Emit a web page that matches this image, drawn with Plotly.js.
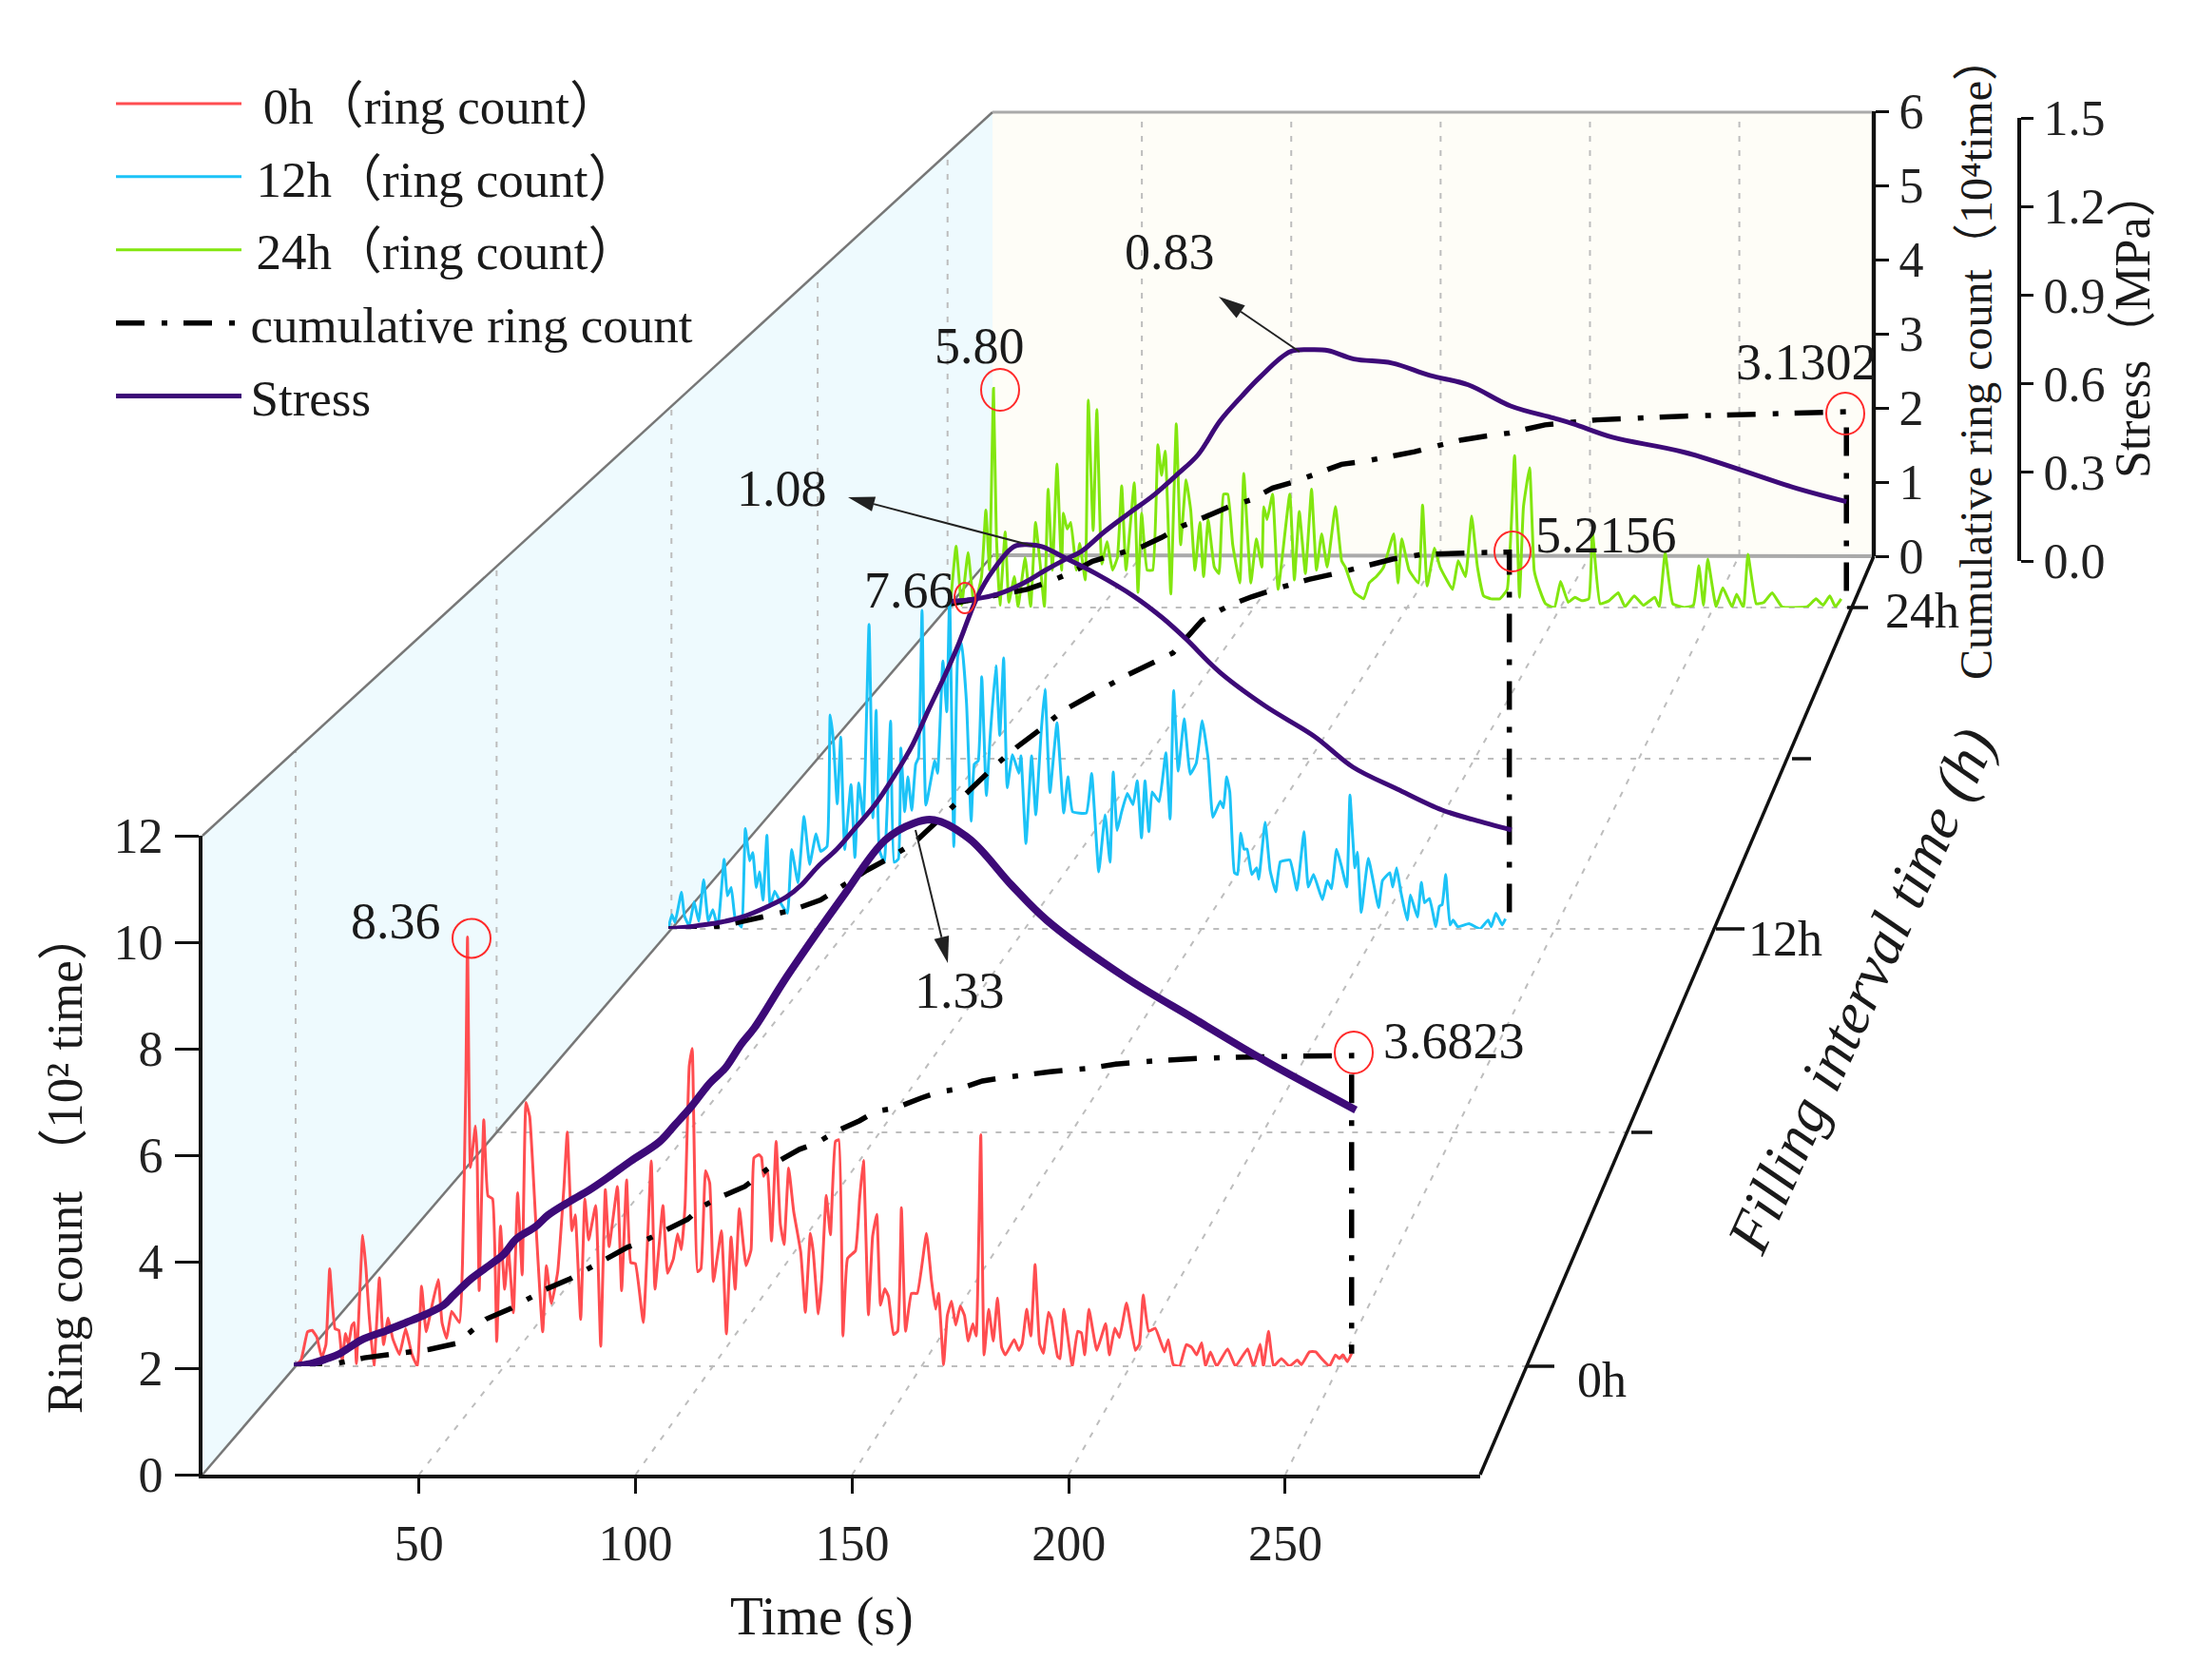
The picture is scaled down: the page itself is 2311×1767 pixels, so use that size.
<!DOCTYPE html>
<html><head><meta charset="utf-8">
<script src="https://cdn.plot.ly/plotly-3.0.1.min.js"></script>
<style>html,body{margin:0;padding:0;background:#fff}#c{width:2311px;height:1767px}</style>
</head><body><div id="c"></div>
<script>
// ---- data: ring count (10^2 times), cumulative (10^4 times), stress (MPa) vs time (s)
const t0h=[0,1.7,3.3,4.4,5.5,6.7,7.7,8.6,9.3,9.9,10.8,11.6,12.4,13.1,13.9,14.5,15,16.5,17.3,18,19.2,20.5,21.5,22.6,23.7,25.3,26.8,28.3,29.6,30.6,31.7,33.2,34.6,35.5,36.6,37.8,39.7,40.4,41.2,41.6,42.3,43.5,43.9,44.4,45.5,46.5,47.6,48.6,49.5,50.5,51.4,52.6,53.6,54.7,55.6,56.5,57.9,59.6,60.5,61.7,63.2,64.7,65.5,66.6,67.4,68.7,69.7,70.6,72.3,73.5,74.6,75.5,77.5,78.5,79.7,80.7,81.8,83.7,85.6,86.5,88.4,89.5,90.9,91.9,92.8,93.7,94.7,95.4,96.7,97.5,98.6,99.6,100.5,102.4,103.6,104.7,105.7,106.7,108.3,109.5,110.2,111.4,112,112.5,113.4,114.4,115.5,116.5,117.4,118.5,119.7,121.4,122.5,123.7,124.4,125.6,126.4,127.5,128.5,129.7,130.5,131.5,132.6,134.5,135.5,136.4,137.6,138.6,139.6,140.5,141.5,142.4,143.6,144.6,145.5,146.5,147.9,149.3,151.5,152.7,153.7,154.4,155.6,156.5,157.5,158.5,159.6,160.6,161.5,162.6,163.4,164.5,165.3,166.4,167.5,168.5,169.5,170.4,172.5,173.6,174.4,175.5,176.5,177.5,178.6,179.5,180.7,181.4,182.9,183.5,184.4,186.4,187.7,188.6,189.4,190.4,192.3,194.4,195.3,196.6,197.7,199.4,201.5,202.5,203.4,204.7,206.3,208.5,209.4,210.6,212.1,213.7,215,216.2,217.4,218.3,219.5,221,223.6,225.5,228.4,229.8,231.4,232.2,233.4,234.6,236.5,238.4,240.3,241.3,243.2,244.7,246.1,248,249.4,250.4,251.2,252.3,253.3];
const count0h=[0,.11,.67,.70,.57,.17,.42,1.90,1.16,.73,.70,.11,.64,.42,.79,.85,.05,2.55,1.90,1.04,0,1.72,.42,.94,.54,.23,.73,.23,0,1.56,.67,1.22,1.69,.85,.54,1.07,.85,2.0,5.5,8.36,3.87,4.68,4.12,1.47,4.80,3.32,3.26,.48,2.73,1.5,2.27,1.04,3.38,1.78,5.14,4.86,2.89,.67,1.96,1.22,1.84,3.5,4.56,2.64,2.95,.91,3.26,2.46,3.13,.39,3.44,2.33,3.5,1.47,3.63,2.02,2.0,.85,4.0,1.5,3.13,1.81,2.09,2.58,2.27,3.13,5.85,6.19,1.84,1.9,3.81,3.57,1.65,2.64,.63,2.52,1.5,3.07,1.96,2.27,4.06,4.12,4.07,3.70,3.83,2.44,4.38,2.78,2.37,3.86,3.02,2.22,1.05,2.59,2.22,1.02,1.67,3.33,2.56,4.38,4.41,.59,2.10,2.25,3.27,4.01,1.0,2.53,2.96,1.19,1.51,1.36,.62,.68,3.09,.68,1.42,1.42,2.59,1.67,1.11,1.42,.03,.99,1.27,.80,1.17,.99,.49,.83,.59,4.51,.22,1.11,.49,1.33,.37,.22,.52,.31,.43,1.11,.59,1.98,.43,.25,1.05,.93,.19,.15,1.11,0,.68,.65,.22,1.11,.31,.83,.22,.74,.56,1.23,.31,.43,1.39,.68,.74,.28,.52,.03,0,.42,.37,.22,.46,0,.28,0,.34,0,.34,0,.43,0,.68,0,.15,0,.12,.03,.28,.28,.15,0,.22,.15,.22,.09,.25];
const t12h=[.1,1,1.9,3.7,4.6,5.9,7.3,8.6,10,11.3,12.6,14,15.8,16.7,17.8,18.9,20.7,21.8,23,23.9,24.9,25.8,26.8,27.9,28.8,30.1,31.9,33.7,34.9,36.7,38.4,40,41.8,43.1,44.9,45.8,46.7,47.8,48.8,49.9,51.7,52.8,53.9,55.2,56.8,57.9,58.8,59.7,61.1,62.9,63.9,65.1,65.8,66.9,67.8,68.9,70,70.8,71.8,72.9,75.4,76.2,77.7,78.8,79.6,80.8,81.9,83,84.4,85.7,86.6,87.7,88.7,90,91.1,92.7,93.8,94.9,95.9,97.4,99.2,99.8,101.2,102.8,104,105.5,106.6,108,110,111.9,113.1,114.4,118.3,119.8,121.8,123.6,125,125.9,127,128.3,129.9,131.5,132.7,133.9,134.9,136,136.9,138.9,140.8,142,143,144.3,146,147.7,149.4,151.1,152.8,154.1,156.2,157.1,158,158.9,160.2,161.1,162,162.9,163.8,165.1,166.5,167.1,168.9,170.3,171.9,173.2,175.9,177.9,179.9,181.1,182.6,185.1,186.5,187.7,189.1,190.4,192,192.9,194.3,195,196.1,198.1,201,202.1,204.2,205,206.1,207.3,209.1,210,212,213.1,214,215.4,217.2,218.2,219,220,221.2,222.1,223.4,226.6,229.7,232,232.9,234.2,236,236.9];
const count12h=[.04,.33,.15,.84,.29,.07,.62,.18,1.13,.18,.44,.04,1.6,.76,.95,.25,.04,2.3,1.56,1.75,.95,1.31,.66,2.15,.51,.87,.58,.36,1.82,1.06,2.58,1.48,2.18,1.78,1.89,4.91,4.33,2.87,4.4,1.82,3.31,1.64,3.35,2.55,6.99,2.55,5.02,1.82,1.53,4.77,1.53,1.6,4.15,2.69,3.49,2.72,3.78,3.93,7.31,2.84,3.86,3.57,6.15,4.98,7.66,1.89,6.26,6.55,5.17,2.47,3.78,3.86,5.79,3.06,4.44,6.04,4.44,6.22,3.24,4.0,3.57,3.97,1.96,3.97,2.62,4.51,5.5,3.13,4.73,2.66,3.49,2.69,2.66,3.57,1.31,2.62,1.53,3.6,2.26,2.69,3.11,2.85,3.4,2.09,3.4,2.23,3.14,2.92,4.04,2.52,5.47,3.62,4.82,3.55,3.8,4.78,3.88,2.56,2.93,2.78,3.49,3.14,1.29,1.25,2.2,1.83,1.83,1.25,1.4,1.14,2.45,1.34,.85,1.54,1.58,.89,2.23,.96,1.25,.67,1.11,.92,1.83,1.47,.96,3.07,1.4,1.76,.38,1.62,.49,1.11,1.29,.96,1.4,.85,.2,.78,.27,1.07,.6,.7,.05,.52,.56,1.25,.09,.2,.05,.12,0,.2,.05,.36,.09,.23];
const t24h=[.9,2.7,4.5,6.6,8.6,11,12.4,13.6,14.9,15.8,17,18.7,19.9,21.7,22.9,25.2,27,28.6,30,31.5,32.7,34.1,35.6,37.1,37.7,38.9,40.1,41.9,43,44.8,45.8,47.4,48.6,50.2,51.9,53.7,55.3,56.7,58.1,60.8,62,63.2,65,66.8,68.5,69.7,70.9,72.7,74.5,75.9,77.7,79.2,80.6,82.2,83.4,84.9,86.9,88.4,89.9,91.3,92.9,95.2,96.5,98.8,100.6,102.4,103,104.1,105.9,107.7,111.5,113,114.6,116.6,118.6,120.2,121.9,123.7,126.4,128.4,129.6,132.6,135.6,137.4,139.7,142.1,145.4,146.8,148,150.4,153.4,154.8,156.3,158.7,160.5,164.6,166.4,168.8,170.8,172.7,174.7,177.1,180,182.4,184.8,186.4,187.7,189.7,191.2,192.6,194.9,197.8,199.8,202.3,204.5,206.7,209,210.2,212.7,215.6,218.6,220.8,223.8,226.8,230.5,232,233.9,236.4,240.1,243.1,244.9,246.4,247.8,250.5,252.7,255.7,257.2,259.4,260.9,263.6,266.1,268.8,272,280.2,283.1,285.4,287.6,289.4,291.3];
const count24h=[.14,1.62,.06,1.45,.02,.82,2.58,.99,5.8,2.0,.06,2.0,.14,.82,.02,1.32,.02,2.25,1.24,.02,3.13,.99,3.8,.99,2.5,2.08,2.25,.99,1.7,.73,5.49,2.04,5.24,1.15,1.74,.99,1.32,3.22,.99,3.3,.4,2.5,.99,.99,4.31,3.5,4.14,.36,4.86,1.66,3.38,2.58,.99,2.25,.82,2.33,1.07,.9,3.0,3.0,1.66,.65,3.55,.65,1.82,1.07,2.67,2.33,3.0,.48,3.0,.73,2.54,.9,3.13,.99,1.95,1.07,2.67,1.24,1.07,.4,.23,.65,.82,1.07,1.95,.65,1.82,.99,.65,2.71,.57,1.57,1.07,.48,1.24,.82,2.42,1.07,.31,.23,.23,.48,4.02,.27,2.67,3.7,.98,.56,.10,0,.69,.14,.27,.18,.23,2.0,.1,.18,.39,.02,.31,.06,.27,.02,1.45,.1,0,.06,1.11,.06,1.28,.02,.52,.02,.35,0,1.41,.1,.14,.39,.02,.02,.23,.06,.31,.02,.23];

const cumT0h=[0,7.8,12,16.9,23,27.9,32.5,38.9,42.3,46.1,52.2,56,60.2,65.9,70,74.2,79.9,84.1,88.2,94.3,97.7,101.9,108,111.4,115.3,121.1,125.4,129.7,135.5,139.3,144.1,150.3,154.4,159.6,164.9,170.1,181.1,190.4,196.8,206.7,217.7,229.3,245,253.3,253.3];
const cum0h=[0,.01,.05,.10,.14,.17,.20,.27,.41,.56,.69,.80,.91,1.03,1.14,1.24,1.41,1.49,1.59,1.74,1.89,2.0,2.13,2.26,2.41,2.57,2.65,2.78,2.91,3.02,3.06,3.18,3.25,3.29,3.38,3.42,3.49,3.53,3.58,3.62,3.65,3.665,3.68,3.6823,.15];
const cumT12h=[0,12.2,19.8,27.9,35.1,43.1,48.1,56.1,62.9,70,77.2,81.3,86.6,92.9,98.7,105.5,111.3,118.5,125.2,128.9,142.8,151,158.8,165.2,173.5,181.3,189.7,197.5,205,212.8,221,229,236.5,238,238];
const cum12h=[0,.02,.09,.18,.26,.40,.55,.81,.99,1.21,1.54,1.73,1.99,2.28,2.52,2.77,3.01,3.21,3.38,3.49,3.82,4.27,4.48,4.6,4.73,4.84,4.93,5.03,5.12,5.18,5.2,5.21,5.2156,5.2156,.02];
const cumT24h=[0,9.8,16.3,25.8,33,40.7,47.2,54.9,63.2,69.7,76.3,84,91.1,98.8,105.9,113.6,120.7,128.4,136.2,144.5,152.2,159.9,167.6,175.3,183,194.7,204,211.7,240,260,281.8,293,293];
const cum24h=[.05,.14,.19,.29,.41,.57,.74,.85,.97,1.12,1.3,1.45,1.6,1.72,1.91,2.02,2.15,2.29,2.34,2.42,2.49,2.59,2.68,2.74,2.79,2.92,2.96,3.0,3.06,3.09,3.125,3.1302,.1];

const stressT0h=[0,4,7.8,10.9,16.2,22.2,26.8,31.3,35.9,38.2,42.7,47.3,50.3,53.3,57.9,60.9,66.2,70.8,75.3,80.6,87.5,91.3,95.1,99.6,103.4,107.2,110.3,118.1,131.5,141.6,148.4,153.4,161.8,171.9,180.3,198.8,215.6,232.5,254.3];
const stress0h=[0,.006,.018,.03,.064,.087,.106,.125,.149,.172,.215,.249,.273,.31,.34,.368,.402,.429,.46,.499,.546,.588,.631,.689,.727,.785,.824,.949,1.144,1.281,1.322,1.33,1.284,1.171,1.086,.949,.846,.744,.624];
const stressT12h=[.1,8.2,14.4,21.6,27.9,33.3,37.8,42.2,47.6,53,58.4,63.8,69.1,73.6,78.1,82.2,87.2,91.9,97.9,102.1,105.7,112.3,120.8,131.6,139.9,146.4,156,168.7,183,193.7,206.3,219,227.9,238.6];
const stress12h=[0,.009,.018,.036,.062,.089,.125,.174,.223,.285,.348,.428,.517,.615,.709,.802,.928,1.008,1.075,1.08,1.075,1.043,1.0,.936,.874,.816,.722,.628,.54,.455,.393,.334,.307,.278];
const stressT24h=[0,9.2,16.3,24.7,31.8,38.3,43.6,50.8,59,67.4,74.5,81.6,88.7,95.8,101.8,111.7,118.4,124,132.4,144.8,157.2,169.7,183.5,197.5,204,216.7,240.5,277,293];
const stress24h=[.02,.028,.043,.079,.12,.155,.181,.242,.303,.364,.426,.492,.6,.68,.742,.824,.83,.827,.80,.787,.747,.717,.649,.61,.591,.548,.499,.383,.341];

const timeTicks=[50,100,150,200,250];
const ringTicks=[0,2,4,6,8,10,12];
const cumTicks=[0,1,2,3,4,5,6];
const stressTicks=[0,.3,.6,.9,1.2,1.5];
const planeNames=['24h','12h','0h'];
const NB='\u00a0',THIN='\u2009',HAIR='\u200a';
const legendNames={'0h':NB+HAIR+'0h（ring count）','12h':THIN+'12h（ring count）','24h':THIN+'24h（ring count）'};

// ---- layout geometry (px of the 2311x1767 page)
const W=2311,H=1767,FONT='"Liberation Serif","Noto Sans CJK SC",serif';
const X=v=>v/W, Y=v=>1-v/H;
const TMAX=295;
const RED='#ff4d50',BLUE='#1cc3f7',GREEN='#82e60f',PURPLE='#3d0a78',INK='#1a1a1a',GRID='#bdbdbd';
const planes={ '24h':{left:997,scale:3.226,base:639,h:477,cum:7.25,st:1.46},
               '12h':{left:703,scale:3.717,base:977,h:550,cum:7.24,st:1.47},
               '0h': {left:309,scale:4.393,base:1437,h:648,cum:7.3,st:1.5}};
const FL=[213,1551],TL=[213,879],BL=[1044,584],BT=[1044,118],BR=[1971,585],BRT=[1971,118],FR=[1557,1551];
const hidden={visible:false,fixedrange:true};
const tickFont={family:FONT,size:52,color:'#222'};

const layout={width:W,height:H,margin:{l:0,r:0,t:0,b:0},paper_bgcolor:'#fff',plot_bgcolor:'rgba(0,0,0,0)',
  font:{family:FONT,size:50,color:INK},showlegend:true,
  legend:{x:X(117),y:Y(68),xanchor:'left',yanchor:'top',bgcolor:'rgba(0,0,0,0)',itemwidth:132,traceorder:'grouped',tracegroupgap:5,
    font:{family:FONT,size:53,color:INK},itemclick:false,itemdoubleclick:false},
  xaxis:{domain:[X(FL[0]),X(FR[0])],range:[0,TMAX],tickvals:timeTicks,ticks:'outside',ticklen:16,tickwidth:3,tickcolor:'#111',
    showline:true,linewidth:4,linecolor:'#111',showgrid:false,zeroline:false,anchor:'y',ticklabelstandoff:8,
    tickfont:tickFont,fixedrange:true},
  yaxis:{domain:[Y(FL[1]),Y(TL[1])],range:[0,12],tickvals:ringTicks,ticks:'outside',ticklen:25,tickwidth:3,tickcolor:'#111',
    showline:true,linewidth:4,linecolor:'#111',showgrid:false,zeroline:false,anchor:'x',ticklabelstandoff:2,
    tickfont:tickFont,fixedrange:true},
  yaxis11:{domain:[Y(585),Y(117)],range:[0,6],tickvals:cumTicks,anchor:'free',position:X(1971),side:'right',ticks:'outside',ticklen:14,tickwidth:3,tickcolor:'#111',
    showline:true,linewidth:4,linecolor:'#111',showgrid:false,zeroline:false,tickfont:tickFont,fixedrange:true},
  yaxis12:{domain:[Y(590),Y(124)],range:[0,1.5],tickvals:stressTicks,tickformat:'.1f',anchor:'free',position:X(2124),side:'right',ticks:'outside',ticklen:13,tickwidth:3,tickcolor:'#111',
    showline:true,linewidth:4,linecolor:'#111',showgrid:false,zeroline:false,tickfont:tickFont,fixedrange:true},
  shapes:[],annotations:[]};

const traces=[{x:[],y:[],xaxis:'x',yaxis:'y',showlegend:false,hoverinfo:'skip'},
              {x:[],y:[],xaxis:'x',yaxis:'y11',showlegend:false,hoverinfo:'skip'},
              {x:[],y:[],xaxis:'x',yaxis:'y12',showlegend:false,hoverinfo:'skip'}];

// one hidden x axis and three hidden y axes per depth plane
const series={'24h':[t24h,count24h,cumT24h,cum24h,stressT24h,stress24h,GREEN,5,3],
              '12h':[t12h,count12h,cumT12h,cum12h,stressT12h,stress12h,BLUE,5,2],
              '0h': [t0h,count0h,cumT0h,cum0h,stressT0h,stress0h,RED,8,1]};
const lineDash='30px,18px,6px,17px';
planeNames.forEach((name,i)=>{
  const p=planes[name],s=series[name],xn=i+2,yb=2+i*3;
  const xa='x'+xn;
  layout['xaxis'+xn]={...hidden,domain:[X(p.left),X(p.left+TMAX*p.scale)],range:[0,TMAX],anchor:'y'+yb};
  const dom=[Y(p.base),Y(p.base-p.h)];
  layout['yaxis'+yb]={...hidden,domain:dom,range:[0,12],anchor:xa};
  layout['yaxis'+(yb+1)]={...hidden,domain:dom,range:[0,p.cum],anchor:xa};
  layout['yaxis'+(yb+2)]={...hidden,domain:dom,range:[0,p.st],anchor:xa};
  traces.push({x:s[0],y:s[1],xaxis:xa,yaxis:'y'+yb,mode:'lines',cliponaxis:false,name:legendNames[name],
    line:{color:s[6],width:3,shape:'spline',smoothing:.35},legendgroup:'g'+name,legendrank:s[8],hoverinfo:'skip'});
  traces.push({x:s[2],y:s[3],xaxis:xa,yaxis:'y'+(yb+1),mode:'lines',cliponaxis:false,name:HAIR+'cumulative ring count',
    line:{color:'#000',width:5.5,dash:lineDash},legendgroup:'gcum',showlegend:name==='0h',legendrank:4,hoverinfo:'skip'});
  traces.push({x:s[4],y:s[5],xaxis:xa,yaxis:'y'+(yb+2),mode:'lines',cliponaxis:false,name:HAIR+'Stress',
    line:{color:PURPLE,width:s[7],shape:'spline',smoothing:1},legendgroup:'gst',showlegend:name==='12h',legendrank:5,hoverinfo:'skip'});
});

// walls, floor and grid
const poly=(pts,fill,layer)=>({type:'path',xref:'paper',yref:'paper',layer:layer||'below',fillcolor:fill,line:{width:0},
  path:'M'+pts.map(q=>X(q[0])+','+Y(q[1])).join('L')+'Z'});
const seg=(a,b,color,width,dash,layer)=>({type:'line',xref:'paper',yref:'paper',layer:layer||'below',x0:X(a[0]),y0:Y(a[1]),x1:X(b[0]),y1:Y(b[1]),line:{color,width,dash:dash||'solid'}});
const S=layout.shapes;
S.push(poly([FL,TL,BT,BL],'#eefafe'));
S.push(poly([BL,BT,BRT,BR],'#fefdf7'));
const depthY=[1437,1191,977,798,639];
const lerp=(a,b,f)=>a+(b-a)*f;
const dashGrid='6px,9px';
depthY.forEach(y=>{
  const f=(FL[1]-y)/(FL[1]-BL[1]);
  const lx=lerp(FL[0],BL[0],f),rx=lerp(FR[0],BR[0],f);
  const topY=lerp(TL[1],BT[1],f);
  S.push(seg([lx,y],[rx,y],GRID,2,dashGrid));
  S.push(seg([lx,y],[lx,topY],GRID,2,dashGrid));
});
const backScale=(BR[0]-BL[0])/TMAX,frontScale=(FR[0]-FL[0])/TMAX;
timeTicks.forEach(t=>{
  S.push(seg([FL[0]+t*frontScale,FL[1]],[BL[0]+t*backScale,BL[1]],GRID,2,dashGrid));
  S.push(seg([BL[0]+t*backScale,BL[1]],[BL[0]+t*backScale,BT[1]],GRID,2,dashGrid));
});
S.push(seg(FL,BL,'#777',2.5));S.push(seg(TL,BT,'#777',2.5));
S.push(seg(BT,BRT,'#aaa',3));S.push(seg(BL,BR,'#aaa',4));S.push(seg(BR,BRT,'#aaa',5));
S.push(seg(FR,BR,'#111',3.5));
[[1605,1437,30],[1716,1191,22],[1805,977,30],[1885,798,20],[1943,639,22]].forEach(d=>S.push(seg([d[0],d[1]],[d[0]+d[2],d[1]],'#111',3.5)));
// red ellipses marking the annotated points
[[496,987,20,20.5],[1052,410,20,22],[1015,629,11,16],[1591,580,19,21],[1941,435,20,22],[1424,1107,20,22]].forEach(c=>
  S.push({type:'circle',xref:'paper',yref:'paper',layer:'above',x0:X(c[0]-c[2]),x1:X(c[0]+c[2]),y0:Y(c[1]+c[3]),y1:Y(c[1]-c[3]),line:{color:'#ff2a2a',width:2}}));
// arrows from the stress peaks to their labels
const arrow=(tail,tip)=>{
  const dx=tip[0]-tail[0],dy=tip[1]-tail[1],n=Math.hypot(dx,dy),ux=dx/n,uy=dy/n,len=28,hw=8;
  const bx=tip[0]-ux*len,by=tip[1]-uy*len;
  S.push(seg(tail,[bx,by],'#222',2,'solid','above'));
  S.push(poly([tip,[bx-uy*hw,by+ux*hw],[bx+uy*hw,by-ux*hw]],'#222','above'));
};
arrow([963,873],[997,1013]);arrow([1086,574],[892,523]);arrow([1367,370],[1282,312]);

// text
const A=layout.annotations;
const txt=(text,x,y,size,extra)=>A.push(Object.assign({text,x:X(x),y:Y(y),xref:'paper',yref:'paper',showarrow:false,xanchor:'center',yanchor:'middle',
   font:{family:FONT,size:size,color:INK}},extra||{}));
txt('8.36',416,969,54);txt('5.80',1030,364,54);txt('7.66',956,621,54);
txt('1.33',1009,1042,54);txt('1.08',822,514,54);txt('0.83',1231,265,54);
txt('3.6823',1529,1095,54);txt('5.2156',1689,563,54);txt('3.1302',1900,381,54);
txt('0h',1685,1451,52);txt('12h',1878,987,52);txt('24h',2022,642,52);
txt('Time (s)',864,1700,57);
txt('Ring count （10² time）',68,1222,53,{textangle:-90});
txt('Cumulative ring count（10⁴time）',2078,376,48,{textangle:-90});
txt('Stress（MPa）',2243,340,52,{textangle:-90});
txt('Filling interval time (h)',1958,1042,63,{textangle:-65.6,font:{family:FONT,size:63,color:INK,style:'italic'}});

Plotly.newPlot('c',traces,layout,{staticPlot:true,displayModeBar:false});
</script></body></html>
